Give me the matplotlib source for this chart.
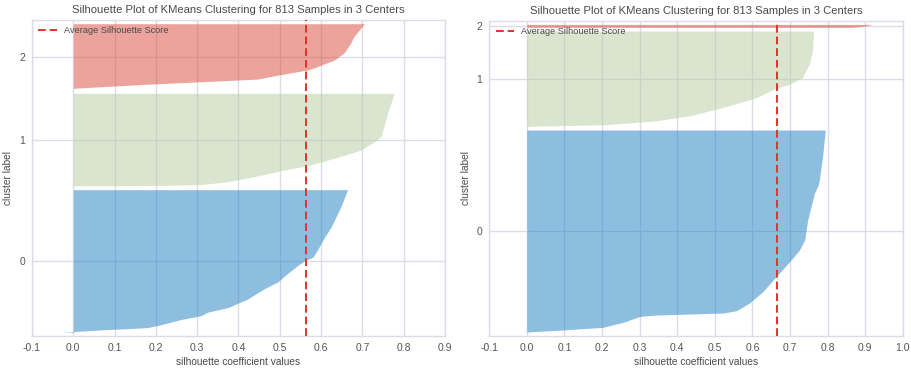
import numpy as np
import matplotlib
matplotlib.use("Agg")
import matplotlib.pyplot as plt

plt.rcParams['font.family'] = ['Liberation Sans', 'DejaVu Sans']

title = "Silhouette Plot of KMeans Clustering for 813 Samples in 3 Centers"
cluster_labels = ["0", "1", "2"]

# ---- left panel: cluster sizes and silhouette profiles (rank fraction, value) ----
left_sizes = [385, 250, 178]
left_avg = 0.563
left_xlim = (-0.1, 0.9)
left_xticks = [-0.1, 0.0, 0.1, 0.2, 0.3, 0.4, 0.5, 0.6, 0.7, 0.8, 0.9]

left_c0_frac = [0.0, 0.005, 0.012, 0.017, 0.025, 0.033, 0.053, 0.089, 0.117, 0.141, 0.173, 0.233, 0.305,
                0.353, 0.413, 0.468, 0.504, 0.526, 0.581, 0.665, 0.737, 0.785, 0.881, 1.0]
left_c0_vals = [-0.027, 0.0, 0.04, 0.067, 0.13, 0.18, 0.212, 0.26, 0.31, 0.325, 0.374, 0.422, 0.462,
                0.495, 0.519, 0.543, 0.561, 0.58, 0.592, 0.608, 0.624, 0.632, 0.648, 0.664]

left_c1_frac = [0.0, 0.005, 0.015, 0.046, 0.1, 0.173, 0.219, 0.299, 0.388, 0.478, 0.532, 0.784, 1.0]
left_c1_vals = [0.0, 0.2, 0.31, 0.374, 0.438, 0.511, 0.568, 0.632, 0.697, 0.729, 0.745, 0.761, 0.777]

left_c2_frac = [0.0, 0.02, 0.044, 0.085, 0.12, 0.16, 0.22, 0.30, 0.33, 0.45, 0.56, 0.71, 0.81, 1.0]
left_c2_vals = [0.0, 0.0, 0.067, 0.188, 0.309, 0.446, 0.495, 0.568, 0.583, 0.632, 0.656, 0.672, 0.68, 0.705]

# ---- right panel ----
right_sizes = [547, 258, 8]
right_avg = 0.665
right_xlim = (-0.1, 1.0)
right_xticks = [-0.1, 0.0, 0.1, 0.2, 0.3, 0.4, 0.5, 0.6, 0.7, 0.8, 0.9, 1.0]

right_c0_frac = [0.0, 0.008, 0.023, 0.05, 0.077, 0.084, 0.094, 0.105, 0.143, 0.2, 0.274, 0.348,
                 0.405, 0.455, 0.553, 0.685, 0.723, 0.75, 0.872, 1.0]
right_c0_vals = [0.0, 0.078, 0.202, 0.26, 0.3, 0.344, 0.521, 0.557, 0.592, 0.628, 0.663, 0.699,
                 0.725, 0.739, 0.747, 0.765, 0.774, 0.778, 0.787, 0.794]

right_c1_frac = [0.0, 0.017, 0.058, 0.11, 0.197, 0.30, 0.40, 0.44, 0.51, 0.65, 0.79, 1.0]
right_c1_vals = [0.0, 0.211, 0.344, 0.432, 0.521, 0.61, 0.663, 0.698, 0.733, 0.751, 0.76, 0.763]

right_c2_frac = [0.0, 0.15, 0.3, 0.45, 0.6, 0.75, 0.9, 1.0]
right_c2_vals = [0.86, 0.88, 0.89, 0.90, 0.905, 0.91, 0.915, 0.918]

colors = ["#1f7fc1", "#b7cda1", "#d94939"]
avg_color = "#e8302a"
grid_color = "#dcdce6"
tick_color = "#555555"
text_color = "#4a4a4a"


def draw(ax, sizes, profiles, avg, xlim, xticks):
    y_lower = 10
    centers = []
    for i, (size, (fr, vals)) in enumerate(zip(sizes, profiles)):
        ys = y_lower + np.asarray(fr) * size
        ax.fill_betweenx(ys, 0, vals, facecolor=colors[i], edgecolor=colors[i],
                         alpha=0.5, linewidth=0)
        centers.append(y_lower + 0.5 * size)
        y_lower += size + 10
    total = sum(sizes)
    ax.axvline(avg, color=avg_color, linestyle=(0, (4, 2)), linewidth=1.4,
               label="Average Silhouette Score", zorder=5)
    ax.set_xlim(*xlim)
    ax.set_ylim(0, total + (len(sizes) + 1) * 10)
    ax.set_xticks(xticks)
    ax.set_xticklabels([f"{t:.1f}" for t in xticks])
    ax.set_yticks(centers)
    ax.set_yticklabels(cluster_labels)
    ax.set_axisbelow(True)
    ax.grid(True, color=grid_color, linewidth=1.0)
    for s in ax.spines.values():
        s.set_color(grid_color)
        s.set_linewidth(1.0)
    ax.tick_params(axis='both', length=0, labelsize=7.5, colors=tick_color, pad=5)
    ax.set_title(title, fontsize=8.1, color=text_color, pad=5)
    ax.set_xlabel("silhouette coefficient values", fontsize=7.3, color=text_color, labelpad=3)
    ax.set_ylabel("cluster label", fontsize=7.3, color=text_color)
    ax.yaxis.set_label_coords(-0.045, 0.5)
    leg = ax.legend(loc="upper left", frameon=False, fontsize=6.6, handlelength=2.0,
                    borderaxespad=0.3)
    for t in leg.get_texts():
        t.set_color(text_color)


fig = plt.figure(figsize=(9.12, 3.72), dpi=100)
fig.patch.set_facecolor("white")
ax1 = fig.add_axes([32 / 912, 1 - 336 / 372, 413 / 912, 316 / 372])
ax2 = fig.add_axes([489.3 / 912, 1 - 335.7 / 372, 413.4 / 912, 315 / 372])

draw(ax1, left_sizes,
     [(left_c0_frac, left_c0_vals), (left_c1_frac, left_c1_vals), (left_c2_frac, left_c2_vals)],
     left_avg, left_xlim, left_xticks)
draw(ax2, right_sizes,
     [(right_c0_frac, right_c0_vals), (right_c1_frac, right_c1_vals), (right_c2_frac, right_c2_vals)],
     right_avg, right_xlim, right_xticks)

fig.savefig("out.png", dpi=100)
